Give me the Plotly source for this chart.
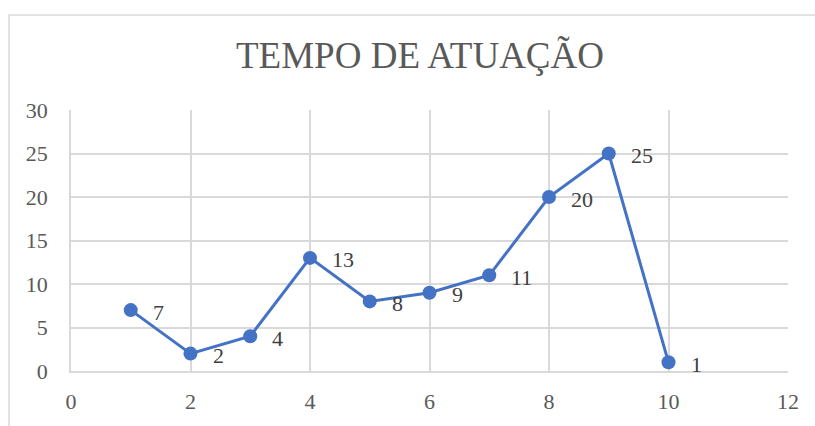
import plotly.graph_objects as go

x_vals = [1, 2, 3, 4, 5, 6, 7, 8, 9, 10]
y_vals = [7, 2, 4, 13, 8, 9, 11, 20, 25, 1]
labels = [str(v) for v in y_vals]
title_text = "TEMPO DE ATUAÇÃO"

FONT = "Liberation Serif, Times New Roman, serif"
W, H = 815, 426
ml, mr, mt, mb = 71, 27, 110, 52

fig = go.Figure()
fig.add_trace(go.Scatter(
    x=x_vals, y=y_vals, mode="lines+markers",
    line=dict(color="#4472C4", width=3),
    marker=dict(color="#4472C4", size=14),
    hoverinfo="skip", showlegend=False,
))
for xv, yv, lab in zip(x_vals, y_vals, labels):
    fig.add_annotation(x=xv, y=yv, text=lab, showarrow=False,
                       xanchor="left", yanchor="middle", xshift=20, yshift=-2,
                       font=dict(family=FONT, size=22, color="#404040"))

fig.add_shape(type="rect", xref="paper", yref="paper",
              x0=(9 - ml) / (W - ml - mr), x1=(W + 20 - ml) / (W - ml - mr),
              y0=-(H + 20 - (H - mb)) / (H - mt - mb), y1=(H - mt - mb + (mt - 14)) / (H - mt - mb),
              line=dict(color="#D9D9D9", width=1.5), layer="below")

fig.update_layout(
    width=W, height=H,
    margin=dict(l=ml, r=mr, t=mt, b=mb),
    paper_bgcolor="white", plot_bgcolor="white",
    title=dict(text=title_text, x=(235 + 605) / 2 / W, xanchor="center",
               y=1 - 55 / H, yanchor="middle",
               font=dict(family=FONT, size=37, color="#595959")),
    xaxis=dict(range=[0, 12], dtick=2, tick0=0, showgrid=True, gridcolor="#D9D9D9",
               gridwidth=1.5, zeroline=False, showline=True, linecolor="#D9D9D9",
               linewidth=1.5, mirror=False, ticks="", ticklen=0, ticklabelstandoff=10,
               tickfont=dict(family=FONT, size=22, color="#595959")),
    yaxis=dict(range=[0, 30], dtick=5, tick0=0, showgrid=True, gridcolor="#D9D9D9",
               gridwidth=1.5, zeroline=False, showline=True, linecolor="#D9D9D9",
               linewidth=1.5, ticks="", ticklen=0, ticklabelstandoff=17,
               tickfont=dict(family=FONT, size=22, color="#595959")),
)
fig.write_html("out.html")
